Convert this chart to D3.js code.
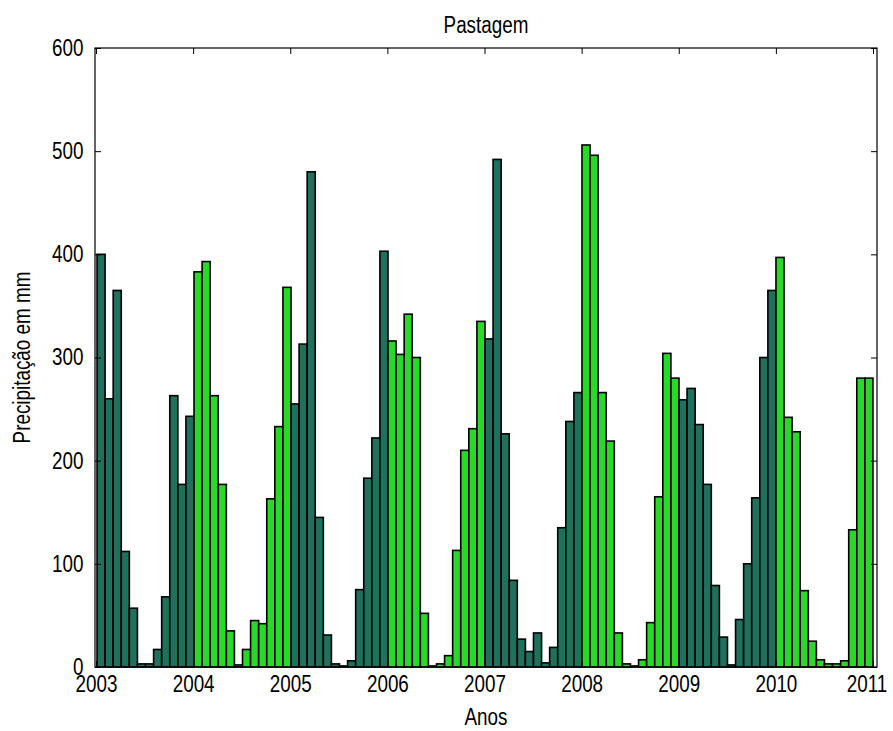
<!DOCTYPE html>
<html>
<head>
<meta charset="utf-8">
<script src="https://cdn.jsdelivr.net/npm/d3@7"></script>
<style>
  body { margin: 0; background: #fff; }
  text { font-family: "Liberation Sans", Arial, sans-serif; fill: #000; }
</style>
</head>
<body>
<div id="chart"></div>
<script>
// monthly rainfall, Jan 2003 .. Dec 2010
var rain2003 = [400, 260, 365, 112, 57, 3, 3, 17, 68, 263, 177, 243];
var rain2004 = [383, 393, 263, 177, 35, 2, 17, 45, 42, 163, 233, 368];
var rain2005 = [255, 313, 480, 145, 31, 3, 1, 6, 75, 183, 222, 403];
var rain2006 = [316, 303, 342, 300, 52, 1, 3, 11, 113, 210, 231, 335];
var rain2007 = [318, 492, 226, 84, 27, 15, 33, 4, 19, 135, 238, 266];
var rain2008 = [506, 496, 266, 219, 33, 3, 1, 7, 43, 165, 304, 280];
var rain2009 = [259, 270, 235, 177, 79, 29, 2, 46, 100, 164, 300, 365];
var rain2010 = [397, 242, 228, 74, 25, 7, 3, 3, 6, 133, 280, 280];

var years = [2003, 2004, 2005, 2006, 2007, 2008, 2009, 2010, 2011];
var yTicks = [0, 100, 200, 300, 400, 500, 600];

var data = [];
[rain2003, rain2004, rain2005, rain2006, rain2007, rain2008, rain2009, rain2010]
  .forEach(function(arr, k) {
    arr.forEach(function(v, m) { data.push({i: k * 12 + m, year: k, value: v}); });
  });

var svg = d3.select("#chart").append("svg")
    .attr("width", 893)
    .attr("height", 731),
    margin = {top: 48, right: 16, bottom: 64, left: 95},
    width = 893 - margin.left - margin.right,
    height = 731 - margin.top - margin.bottom,
    g = svg.append("g").attr("transform", "translate(" + margin.left + "," + margin.top + ")");

// bars sit on a month index, the axis labels on years
var x = d3.scaleLinear().domain([-0.25, 96.5]).range([0, width]);
var xYear = d3.scaleLinear().domain([2003, 2011]).range([1, width - 4]);
var y = d3.scaleLinear().domain([0, 600]).range([height, 0]);

var colors = ["#1f705d", "#26da26"];
var squeeze = "scale(0.82,1)";   // matlab font is tall and narrow

g.selectAll(".bar")
  .data(data)
  .enter().append("rect")
    .attr("class", "bar")
    .attr("x", function(d) { return x(d.i); })
    .attr("width", function(d) { return x(d.i + 1) - x(d.i); })
    .attr("y", function(d) { return y(d.value); })
    .attr("height", function(d) { return height - y(d.value); })
    .attr("fill", function(d) { return colors[d.year % 2]; })
    .attr("stroke", "#000")
    .attr("stroke-width", 1.6);

// axes, MATLAB style: ticks inside, box all round
var tickLen = 6;

var bottom = g.append("g")
    .attr("transform", "translate(0," + height + ")")
    .call(d3.axisBottom(xYear).tickValues(years).tickFormat(d3.format("d"))
      .tickSizeInner(-tickLen).tickSizeOuter(0).tickPadding(9))
    .call(function(a) { a.select(".domain").remove(); });
bottom.selectAll(".tick text").attr("transform", squeeze);
bottom.selectAll(".tick:last-of-type text").attr("dx", -8);

g.append("g")
    .call(d3.axisTop(xYear).tickValues(years).tickFormat("")
      .tickSizeInner(-tickLen).tickSizeOuter(0))
    .call(function(a) { a.select(".domain").remove(); });

var left = g.append("g")
    .call(d3.axisLeft(y).tickValues(yTicks)
      .tickSizeInner(-tickLen).tickSizeOuter(0).tickPadding(14))
    .call(function(a) { a.select(".domain").remove(); });
left.selectAll(".tick text").attr("transform", squeeze);

g.append("g")
    .attr("transform", "translate(" + width + ",0)")
    .call(d3.axisRight(y).tickValues(yTicks).tickFormat("")
      .tickSizeInner(-tickLen).tickSizeOuter(0))
    .call(function(a) { a.select(".domain").remove(); });

g.selectAll(".tick line").attr("stroke", "#000");
g.selectAll(".tick text").style("font-size", "23px");

g.append("rect")
    .attr("width", width)
    .attr("height", height)
    .attr("fill", "none")
    .attr("stroke", "#000")
    .attr("stroke-width", 1.2);

svg.append("text")
    .attr("transform", "translate(" + (margin.left + width / 2) + ",33) " + squeeze)
    .attr("text-anchor", "middle")
    .style("font-size", "23px")
    .text("Pastagem");

svg.append("text")
    .attr("transform", "translate(" + (margin.left + width / 2) + ",725) " + squeeze)
    .attr("text-anchor", "middle")
    .style("font-size", "23px")
    .text("Anos");

svg.append("text")
    .attr("transform", "translate(30," + (margin.top + height / 2) + ") rotate(-90) " + squeeze)
    .attr("text-anchor", "middle")
    .style("font-size", "23px")
    .text("Precipitação em mm");
</script>
</body>
</html>
